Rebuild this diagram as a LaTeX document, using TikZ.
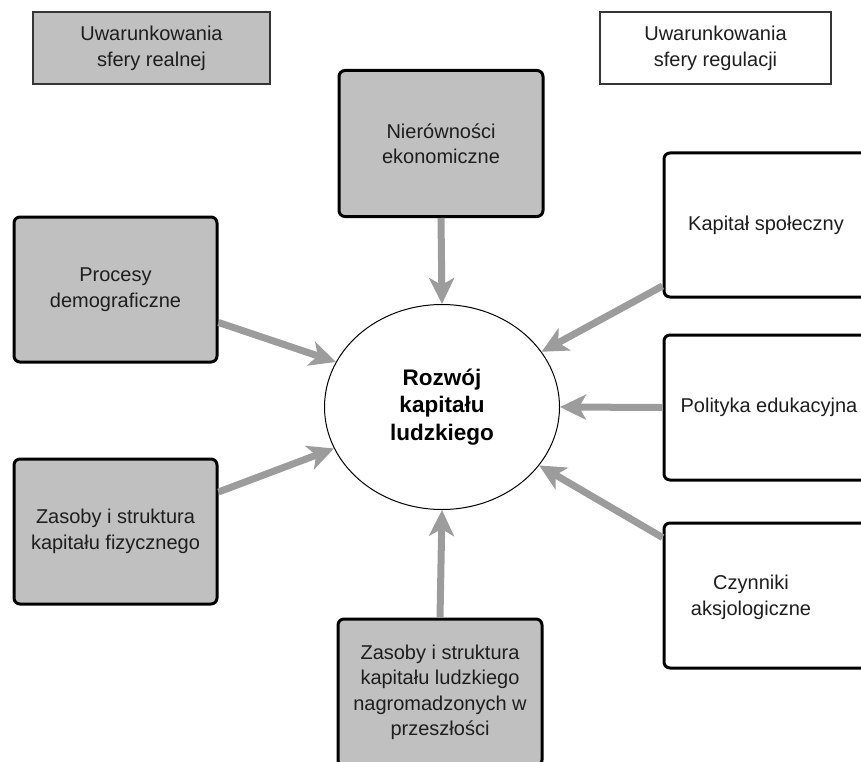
\documentclass[tikz,border=0pt]{standalone}
\usepackage{fontspec}
\setmainfont{Liberation Sans}
\usetikzlibrary{arrows.meta,shapes.geometric}
\definecolor{boxgray}{HTML}{C0C0C0}
\definecolor{arrgray}{HTML}{9C9C9C}
\definecolor{txt}{HTML}{1E1E1E}
\tikzset{
  legendbox/.style={draw=txt!90, line width=1.4pt, minimum width=237pt, minimum height=72pt, inner sep=0pt, align=center, text=txt, font=\fontsize{20}{26}\selectfont},
  factorbox/.style={draw=black, line width=3pt, rounded corners=6pt, minimum width=204pt, minimum height=146pt, inner sep=0pt, align=center, text=txt, font=\fontsize{20}{25.5}\selectfont},
  grayfill/.style={fill=boxgray},
  flow/.style={draw=arrgray, line width=7pt, -{Stealth[length=26pt,width=25pt,inset=7pt]}},
  boxtext/.style={align=center, text=txt, font=\fontsize{20}{25.5}\selectfont, inner sep=0pt}
}
\begin{document}
\begin{tikzpicture}[x=1pt,y=-1pt]
\useasboundingbox (0,0) rectangle (861,762);
% legend
\node[legendbox, grayfill] (legL) at (151.5,48) {Uwarunkowania\\sfery realnej};
\node[legendbox, minimum width=231pt, fill=white] (legR) at (715.5,48) {Uwarunkowania\\sfery regulacji};
% centre
\node[draw=black, line width=1pt, ellipse, minimum width=235pt, minimum height=205pt, inner sep=0pt, align=center, text=black, font=\fontsize{22.5}{27.5}\selectfont\bfseries] (ell) at (442,407) {Rozwój\\kapitału\\ludzkiego};
% left / top / bottom (real sphere)
\node[factorbox, grayfill] (nier) at (441,143.5) {Nierówności\\ekonomiczne};
\node[factorbox, grayfill, minimum width=203pt, minimum height=145pt] (proc) at (115.5,289.5) {Procesy\\demograficzne};
\node[factorbox, grayfill, minimum width=203pt, minimum height=145pt] (zfiz) at (115.5,531.5) {Zasoby i struktura\\kapitału fizycznego};
\node[factorbox, grayfill, minimum height=147pt] (zlud) at (440,692.5) {Zasoby i struktura\\kapitału ludzkiego\\nagromadzonych w\\przeszłości};
% right (regulation sphere)
\node[factorbox, fill=white, minimum height=144pt] (kap) at (766,225) {Kapitał społeczny};
\node[factorbox, fill=white, minimum height=145pt] (pol) at (766,407.5) {};
\node[boxtext] (polt) at (769,407.5) {Polityka edukacyjna};
\node[factorbox, fill=white, minimum height=145pt] (czyn) at (766,595.5) {};
\node[boxtext] (czynt) at (751,597.5) {Czynniki\\aksjologiczne};
% connectors
\draw[flow] (nier.south) -- (ell.90);
\draw[flow] (zlud.north) -- (ell.270);
\draw[flow] ([yshift=-33pt]proc.east) -- (ell.157.6);
\draw[flow] ([yshift=39.5pt]zfiz.east) -- (ell.201.5);
\draw[flow] ([yshift=-61pt]kap.west) -- (ell.29.4);
\draw[flow] (pol.west) -- (ell.0);
\draw[flow] ([yshift=58pt]czyn.west) -- (ell.329);
\end{tikzpicture}
\end{document}
